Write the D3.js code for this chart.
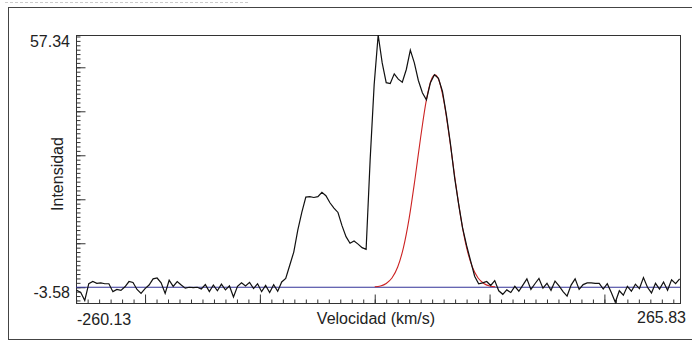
<html>

<head>
  <script src="https://d3js.org/d3.v7.min.js"></script>
  <style>
    body {
      margin: 0;
      background: white;
    }

    text {
      font-family: "Liberation Sans", Arial, sans-serif;
      fill: #222;
    }

    .axis .domain {
      stroke: none;
    }

    .axis line {
      stroke: #333;
    }
  </style>
</head>

<body>
  <svg width="692" height="342" id="espectro"></svg>

  <script>
    // spectrum channels (km/s): first channel and channel width
    const velStart = -259.5;
    const velStep = 3.5;

    // observed intensity per channel
    const intensity = [
      -0.7, -1.2, -3.0, 0.8, 1.3, 0.9, 1.0, 0.8, 0.8, -1.0,
      -0.5, -0.7, 0.1, 1.3, 1.1, -0.5, -1.4, -0.3, 0.5, 1.9,
      2.1, 1.0, -1.4, 1.6, 0.2, 1.3, 0.5, -0.2, 0.0, -0.1,
      0.0, -0.4, 0.6, -1.0, 0.5, -0.8, 0.7, -0.6, 0.3, -2.2,
      0.2, 1.0, 0.3, 1.1, -0.3, 0.8, -1.0, 0.4, -1.2, 0.6,
      -0.9, 1.2, 2.0, 5.0, 8.0, 13.0, 17.0, 20.5, 20.6, 20.4,
      20.6, 21.6, 20.8, 19.2, 18.0, 17.0, 14.0, 11.5, 10.0, 10.5,
      9.8, 9.0, 8.6, 28.9, 46.0, 57.34, 51.0, 46.5, 46.3, 48.5,
      47.3, 46.6, 49.5, 53.9, 51.0, 47.0, 44.2, 42.6, 46.5, 48.3,
      47.5, 44.5, 39.0, 32.5, 25.0, 19.0, 13.5, 9.5, 6.0, 2.5,
      0.8, 1.0, 1.3, 0.4, 1.5, -0.8, -1.6, -0.6, -1.2, 0.2,
      -0.9, 0.5, 1.9, -0.5, 0.8, 2.0, -0.2, 0.9, -0.7, 1.4,
      0.3, -1.0, -2.0, 0.5, 1.9, -0.5, 0.6, 1.0, 1.0, 0.9,
      0.9, -0.4, 0.8, -1.2, -3.4, -0.8, -1.8, 0.2, -0.9, 0.7,
      -0.3, 2.2, 0.0, -1.3, 0.9, -0.4, 1.2, -0.7, 1.7, 0.8,
      1.9
    ];

    // fitted component (red)
    const fitVelocity = [0, 5, 10, 15, 20, 25, 30, 35, 40, 45, 50, 52.5, 55, 60, 65, 70, 75, 80, 85, 90, 95, 100, 105];
    const fitIntensity = [0.1, 0.3, 0.87, 2.1, 4.6, 9.0, 15.7, 24.5, 34.1, 42.6, 47.6, 48.3, 47.6, 42.6, 34.1, 24.5, 15.7, 9.0, 4.6, 2.1, 0.87, 0.3, 0.1];

    // axis limits / labels
    const velDomain = [-260.13, 265.83];
    const intDomain = [-3.58, 57.34];
    const xMajor = [-200, -100, 0, 100, 200];
    const yMajor = [0, 10, 20, 30, 40, 50];

    const svg = d3.select("#espectro");

    const plot = { left: 76, right: 680, top: 35, bottom: 303 };

    const xScale = d3.scaleLinear().domain(velDomain).range([plot.left, plot.right]);
    const yScale = d3.scaleLinear().domain(intDomain).range([plot.bottom, plot.top]);

    // faint cut off caption at the very top
    svg.append("line")
      .attr("x1", 5).attr("y1", 2.5).attr("x2", 250).attr("y2", 2.5)
      .attr("stroke", "#ccc")
      .attr("stroke-dasharray", "3,2");

    // outer panel frame
    svg.append("rect")
      .attr("x", 8.5).attr("y", 7.5)
      .attr("width", 700).attr("height", 332)
      .attr("fill", "none")
      .attr("stroke", "#444");

    // plot frame
    svg.append("rect")
      .attr("x", plot.left + 0.5).attr("y", plot.top + 0.5)
      .attr("width", plot.right - plot.left).attr("height", plot.bottom - plot.top)
      .attr("fill", "white")
      .attr("stroke", "#333");

    // left axis ticks, pointing inward
    svg.append("g")
      .attr("class", "axis")
      .attr("transform", `translate(${plot.left + 0.5},0)`)
      .call(d3.axisRight(yScale).tickValues(d3.range(-3, 58)).tickSize(4).tickFormat(""));
    svg.append("g")
      .attr("class", "axis")
      .attr("transform", `translate(${plot.left + 0.5},0)`)
      .call(d3.axisRight(yScale).tickValues(yMajor).tickSize(9).tickFormat(""));

    // bottom axis ticks, pointing inward
    svg.append("g")
      .attr("class", "axis")
      .attr("transform", `translate(0,${plot.bottom + 0.5})`)
      .call(d3.axisTop(xScale).tickValues(d3.range(-260, 266, 10)).tickSize(4).tickFormat(""));
    svg.append("g")
      .attr("class", "axis")
      .attr("transform", `translate(0,${plot.bottom + 0.5})`)
      .call(d3.axisTop(xScale).tickValues(xMajor).tickSize(9).tickFormat(""));

    // min / max labels
    svg.append("text")
      .attr("x", plot.left - 6).attr("y", yScale(intDomain[1]) + 11.5)
      .style("text-anchor", "end").style("font-size", "16px")
      .text(intDomain[1].toFixed(2));
    svg.append("text")
      .attr("x", plot.left - 6).attr("y", yScale(intDomain[0]) - 5)
      .style("text-anchor", "end").style("font-size", "16px")
      .text(intDomain[0].toFixed(2));
    svg.append("text")
      .attr("x", xScale(velDomain[0]) + 1).attr("y", plot.bottom + 22)
      .style("text-anchor", "start").style("font-size", "16px")
      .text(velDomain[0].toFixed(2));
    svg.append("text")
      .attr("x", xScale(velDomain[1]) + 6).attr("y", plot.bottom + 20)
      .style("text-anchor", "end").style("font-size", "16px")
      .text(velDomain[1].toFixed(2));

    // axis titles
    svg.append("text")
      .attr("x", 376).attr("y", plot.bottom + 21)
      .style("text-anchor", "middle").style("font-size", "16px")
      .text("Velocidad (km/s)");
    svg.append("text")
      .attr("transform", "translate(63,174) rotate(-90)")
      .style("text-anchor", "middle").style("font-size", "16px")
      .text("Intensidad");

    // baseline at zero
    svg.append("line")
      .attr("x1", plot.left).attr("x2", plot.right)
      .attr("y1", yScale(0)).attr("y2", yScale(0))
      .attr("stroke", "#333399")
      .attr("stroke-width", 1.2);

    // fitted gaussian
    const fitLine = d3.line()
      .x((d, i) => xScale(d))
      .y((d, i) => yScale(fitIntensity[i]))
      .curve(d3.curveMonotoneX);
    svg.append("path")
      .attr("d", fitLine(fitVelocity))
      .attr("fill", "none")
      .attr("stroke", "#cc2222")
      .attr("stroke-width", 1.1);

    // observed spectrum
    const specLine = d3.line()
      .x((d, i) => xScale(velStart + i * velStep))
      .y(d => yScale(d));
    svg.append("path")
      .attr("d", specLine(intensity))
      .attr("fill", "none")
      .attr("stroke", "#111")
      .attr("stroke-width", 1.2);
  </script>
</body>

</html>
